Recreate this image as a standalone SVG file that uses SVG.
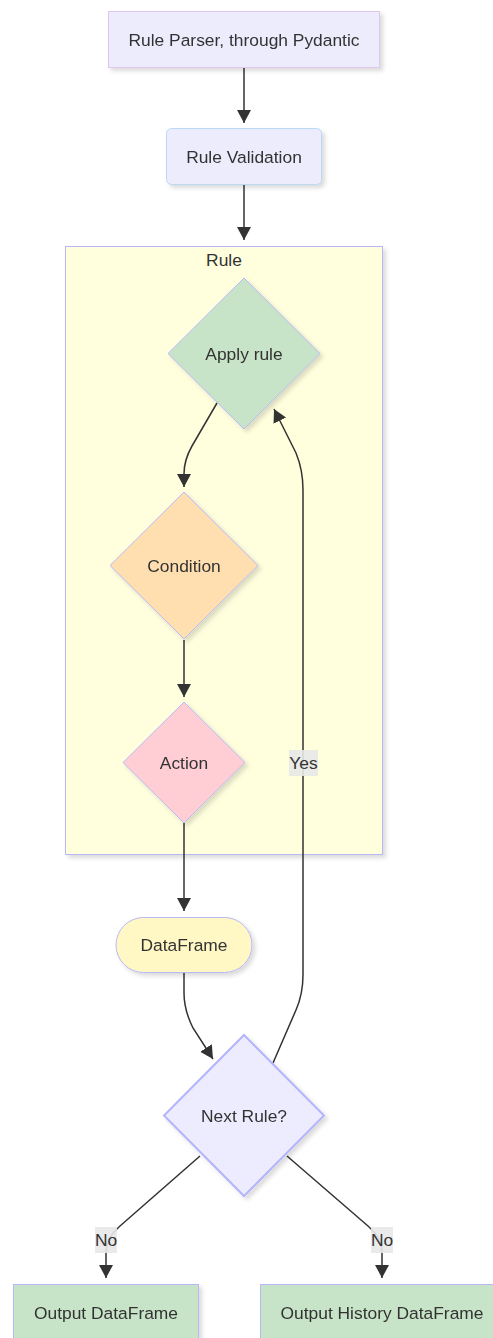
<svg xmlns="http://www.w3.org/2000/svg" width="493" height="1338" viewBox="0 0 493 1338">
  <style>
    .lbl { font-family: "Liberation Sans", Arial, sans-serif; font-size: 17.4px; fill: #333; text-anchor: middle; dominant-baseline: central; }
    .edge { fill: none; stroke: #333; stroke-width: 1.5; }
    .elbl { fill: #e8e8e8; opacity: 0.9; }
    .node { filter: url(#shadow); }
  </style>
  <defs>
    <filter id="shadow" x="-20%" y="-20%" width="140%" height="140%">
      <feDropShadow dx="3" dy="3" stdDeviation="2" flood-color="#000" flood-opacity="0.14"/>
    </filter>
    <marker id="arrow" markerUnits="userSpaceOnUse" markerWidth="14" markerHeight="14" refX="13" refY="7" orient="auto">
      <path d="M0,0 L13,7 L0,14 z" fill="#333"/>
    </marker>
  </defs>

  <!-- cluster: Rule -->
  <g id="cluster-rule">
    <rect x="65.5" y="246.5" width="317" height="608" fill="#ffffde" stroke="#b8b8f8" stroke-width="1" filter="url(#shadow)"/>
    <text class="lbl" x="224" y="260">Rule</text>
  </g>

  <!-- connectors -->
  <g id="edges">
    <path class="edge" d="M244,67 L244,123" marker-end="url(#arrow)"/>
    <path class="edge" d="M244,184 L244,240" marker-end="url(#arrow)"/>
    <path class="edge" d="M217,403 L192,446 Q184,460 184,474 L184,487" marker-end="url(#arrow)"/>
    <path class="edge" d="M184,640 L184,697" marker-end="url(#arrow)"/>
    <path class="edge" d="M184,823 L184,911" marker-end="url(#arrow)"/>
    <path class="edge" d="M184,973 L184,993 Q184,1010 193,1028 L213,1059" marker-end="url(#arrow)"/>
    <path class="edge" d="M273,1063 L296,1010 Q303,994 303,975 L303,490 Q303,470 296,453 L274,409" marker-end="url(#arrow)"/>
    <path class="edge" d="M200,1156 L120,1226 Q106,1238 106,1252 L106,1278" marker-end="url(#arrow)"/>
    <path class="edge" d="M287,1156 L368,1226 Q382,1238 382,1252 L382,1278" marker-end="url(#arrow)"/>
  </g>

  <!-- edge labels -->
  <g id="edge-labels">
    <rect class="elbl" x="289" y="750" width="29" height="26"/>
    <text class="lbl" x="303.5" y="763">Yes</text>
    <rect class="elbl" x="95" y="1227" width="22" height="26"/>
    <text class="lbl" x="106" y="1240">No</text>
    <rect class="elbl" x="371" y="1227" width="22" height="26"/>
    <text class="lbl" x="382" y="1240">No</text>
  </g>

  <g id="rule-parser" class="node">
    <rect x="108.5" y="11.5" width="271" height="56" fill="#ececfc" stroke="#e2c6ee" stroke-width="1"/>
    <text class="lbl" x="244" y="39.5">Rule Parser, through Pydantic</text>
  </g>

  <g id="rule-validation" class="node">
    <rect x="166.5" y="128.5" width="155" height="56" rx="5" fill="#ececfc" stroke="#b8daf4" stroke-width="1"/>
    <text class="lbl" x="244" y="156.5">Rule Validation</text>
  </g>

  <g id="apply-rule" class="node">
    <polygon points="244,278 320,353.5 244,429 168,353.5" fill="#c8e4c8" stroke="#b8b8f8" stroke-width="1"/>
    <text class="lbl" x="244" y="353.5">Apply rule</text>
  </g>

  <g id="condition" class="node">
    <polygon points="184,492 258,565.5 184,639 110,565.5" fill="#ffdeb0" stroke="#b8b8f8" stroke-width="1"/>
    <text class="lbl" x="184" y="565.5">Condition</text>
  </g>

  <g id="action" class="node">
    <polygon points="184,702 245,762.5 184,823 123,762.5" fill="#ffcdd4" stroke="#b8b8f8" stroke-width="1"/>
    <text class="lbl" x="184" y="762.5">Action</text>
  </g>

  <g id="dataframe" class="node">
    <rect x="116" y="917.5" width="136" height="55" rx="27.5" fill="#fff7c4" stroke="#b8b8f8" stroke-width="1"/>
    <text class="lbl" x="184" y="945">DataFrame</text>
  </g>

  <g id="next-rule" class="node">
    <polygon points="244,1035 324,1115.5 244,1196 164,1115.5" fill="#ececfe" stroke="#b4b4fc" stroke-width="2"/>
    <text class="lbl" x="244" y="1115.5">Next Rule?</text>
  </g>

  <g id="output-dataframe" class="node">
    <rect x="13.5" y="1284.5" width="185" height="56" fill="#c8e4c8" stroke="#b8b8f8" stroke-width="1"/>
    <text class="lbl" x="106" y="1312.5">Output DataFrame</text>
  </g>

  <g id="output-history" class="node">
    <rect x="260.5" y="1284.5" width="243" height="56" fill="#c8e4c8" stroke="#b8b8f8" stroke-width="1"/>
    <text class="lbl" x="382" y="1312.5">Output History DataFrame</text>
  </g>
</svg>
